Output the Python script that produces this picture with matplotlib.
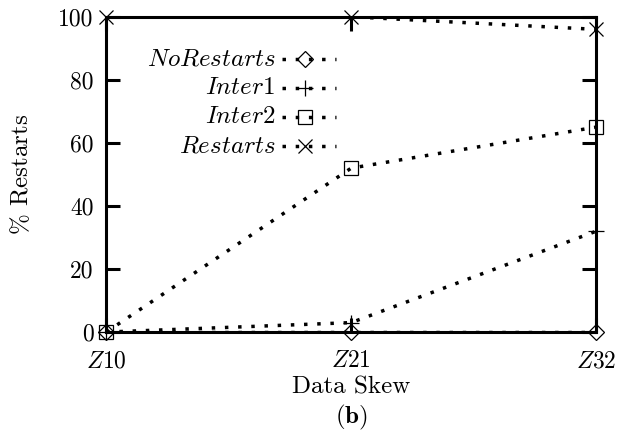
import numpy as np
import matplotlib
matplotlib.use('Agg')
import matplotlib.pyplot as plt
from matplotlib.lines import Line2D

plt.rcParams['mathtext.fontset'] = 'cm'
plt.rcParams['font.family'] = ['cmr10', 'DejaVu Serif']
plt.rcParams['axes.unicode_minus'] = False

# data
skews = ['$Z$10', '$Z$21', '$Z$32']
no_restarts = [0, 0, 0]
inter1 = [0, 3, 32]
inter2 = [0, 52, 65]
restarts = [100, 100, 96]

series = [
    (r'$NoRestarts$', no_restarts, 'D', 8),
    (r'$Inter1$', inter1, '+', 12),
    (r'$Inter2$', inter2, 's', 10),
    (r'$Restarts$', restarts, 'x', 10),
]

W, H = 625, 441
fig = plt.figure(figsize=(W / 100, H / 100), dpi=100)
ax = fig.add_axes([0.170, 0.247, 0.784, 0.715])

x = np.arange(len(skews))
lw = 2.5
dots = (0, (1, 2.8))
for label, vals, mk, ms in series:
    ax.plot(x, vals, color='black', lw=lw, linestyle=dots,
            dash_capstyle='butt')
    ax.plot(x, vals, linestyle='none', marker=mk, ms=ms, mfc='none',
            mec='black', mew=0.9, clip_on=False, zorder=3)

ax.set_xlim(0, 2)
ax.set_ylim(0, 100)
ax.set_xticks(x)
ax.set_xticklabels(skews)
ax.set_yticks(np.arange(0, 101, 20))

for s in ax.spines.values():
    s.set_linewidth(2.2)
ax.tick_params(direction='in', length=10, width=2.2, top=True, right=True,
               labelsize=17, pad=9)
ax.tick_params(axis='x', pad=13)

ax.set_xlabel(r'Data Skew', fontsize=18, labelpad=3)
ax.set_ylabel(r'$\%$ Restarts', fontsize=18, labelpad=18)
fig.text(0.5 * (0.170 + 0.954), 0.040, r'($\mathbf{b}$)', ha='center',
         fontsize=18)

# key, drawn by hand in figure pixels so the rows are evenly spaced
for i, (label, vals, mk, ms) in enumerate(series):
    yc = 1 - (59 + 29 * i) / H
    fig.text(276 / W, yc, label, ha='right', va='center', fontsize=18)
    fig.add_artist(Line2D([282 / W, 336 / W], [yc, yc], color='black', lw=lw,
                          linestyle=dots, dash_capstyle='butt'))
    fig.add_artist(Line2D([305 / W], [yc], linestyle='none', marker=mk, ms=ms,
                          mfc='none', mec='black', mew=0.9))

fig.savefig('out.png', dpi=100)
